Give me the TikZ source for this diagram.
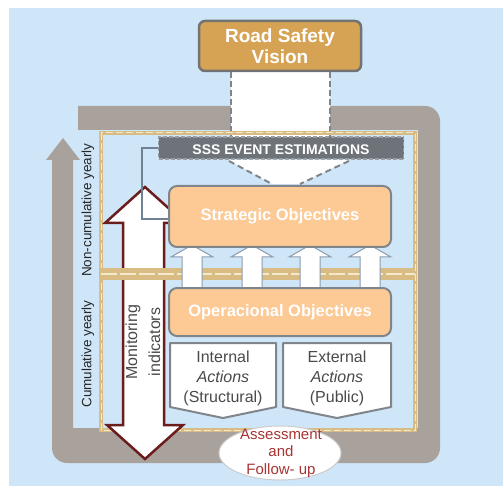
\documentclass[tikz,border=0pt]{standalone}
\usepackage{fontspec}
\setmainfont{Liberation Sans}
\usetikzlibrary{shapes.geometric}
\definecolor{bgblue}{HTML}{CFE6F8}
\definecolor{loopgray}{HTML}{A9A19B}
\definecolor{visionfill}{HTML}{D6A355}
\definecolor{boxedge}{HTML}{80858B}
\definecolor{peach}{HTML}{FDC994}
\definecolor{bandgray}{HTML}{6E737A}
\definecolor{tanc}{HTML}{D8BC84}
\definecolor{tanlight}{HTML}{F3E9CC}
\definecolor{mred}{HTML}{6B1C1C}
\definecolor{assess}{HTML}{A83434}
\definecolor{slate}{HTML}{6F8294}
\definecolor{txtgray}{HTML}{4A4A4A}
\begin{document}
\begin{tikzpicture}[x=1pt,y=-1pt,
  objbox/.style={draw=boxedge, line width=2pt, fill=peach, rounded corners=8pt, inner sep=0pt,
    text=white, font=\fontsize{16.5}{18}\selectfont\bfseries},
  actiontext/.style={align=center, text=txtgray, font=\fontsize{16}{20}\selectfont, inner sep=0pt},
  sidetext/.style={rotate=90, text=black!85, font=\fontsize{13.5}{14}\selectfont, inner sep=0pt},
  uparrow/.style={fill=white, draw=slate!80, line width=1pt}
]
\useasboundingbox (0,0) rectangle (503,486);
\fill[bgblue] (9,8) rectangle (503,486);

% cycle loop band with upward arrow on the left
\fill[loopgray] (78,106) [rounded corners=15pt] -- (440,106) -- (440,463) -- (52,463) -- (52,220)
  [sharp corners] -- (52,160) -- (46,160) -- (63,138) -- (80,160) -- (73,160) -- (73,428)
  -- (418,428) -- (418,130) -- (78,130) -- cycle;

% white shaft under the vision box
\fill[white] (231,72) rectangle (330,137);
\draw[boxedge, line width=2pt, dash pattern=on 6pt off 3pt] (231,72) -- (231,137) (330,72) -- (330,137);

% inner dashed frame
\draw[tanc, line width=4pt] (101,133) rectangle (415,430);
\draw[tanlight, line width=1pt, dash pattern=on 7pt off 3pt] (101,133) rectangle (415,430);

% vision box
\node[draw=black!55, line width=2.5pt, fill=visionfill, rounded corners=6pt,
  minimum width=162pt, minimum height=50pt, inner sep=0pt, align=center, text=white,
  font=\fontsize{19}{21}\selectfont\bfseries] (vision) at (280,46) {Road Safety\\Vision};

% segment band
\node[fill=bandgray, draw=bandgray!70!white, line width=1.5pt, dash pattern=on 4pt off 2pt,
  minimum width=245pt, minimum height=22pt, inner sep=0pt] (seg) at (281,148) {};
\node[text=white, inner sep=0pt, font=\fontsize{14}{14}\selectfont\bfseries] (segtext) at (281,150)
  {SSS EVENT ESTIMATIONS};

% funnel from band to strategic objectives
\fill[white] (229,160) -- (349,160) -- (300,184) -- (272,184) -- cycle;
\draw[boxedge, line width=2pt, dash pattern=on 6pt off 4pt] (229,161) -- (272,184) (349,161) -- (300,184);

% monitoring indicators double arrow
\filldraw[fill=white, draw=mred, line width=2.5pt, line join=miter]
  (145,187) -- (185,223) -- (164,223) -- (164,425) -- (183,425) -- (145,459) -- (107,425)
  -- (123,425) -- (123,223) -- (105,223) -- cycle;

% connector from band to strategic objectives
\coordinate (cbend) at (142,148);
\draw[slate, line width=1.5pt] (seg.west) -- (cbend) -- (142,219) -- (168,219);

% horizontal divider
\fill[tanc] (101,268) rectangle (415,280);
\draw[tanlight, line width=1.2pt, dash pattern=on 16pt off 3pt] (101,274) -- (415,274);

% up arrows
\foreach \c in {192,252,310,370} {
  \filldraw[uparrow] (\c-10,293) -- (\c-10,257) -- (\c-21,257) -- (\c,245) -- (\c+21,257)
    -- (\c+10,257) -- (\c+10,293) -- cycle;
}

% objective boxes
\node[objbox, minimum width=222pt, minimum height=61pt] (strat) at (280,216.5) {Strategic Objectives};
\node[objbox, minimum width=222pt, minimum height=48pt] (ops) at (280,312) {Operacional Objectives};

% action boxes
\filldraw[fill=white, draw=boxedge, line width=2pt, line join=round]
  (170,343) -- (276,343) -- (276,407) -- (223,418) -- (170,407) -- cycle;
\filldraw[fill=white, draw=boxedge, line width=2pt, line join=round]
  (283,343) -- (391,343) -- (391,407) -- (337,418) -- (283,407) -- cycle;
\node[actiontext] (internal) at (223,378) {Internal\\\textit{Actions}\\(Structural)};
\node[actiontext] (external) at (337,378) {External\\\textit{Actions}\\(Public)};

% assessment ellipse
\node[ellipse, fill=white, draw=black!20, line width=1pt, minimum width=122pt, minimum height=54pt,
  inner sep=0pt] (assessment) at (280,453) {};
\node[align=center, text=assess, inner sep=0pt, font=\fontsize{15}{17.5}\selectfont] (assesstext)
  at (281,453) {Assessment\\and\\Follow- up};

% monitoring text
\node[rotate=90, align=center, text=txtgray, inner sep=0pt, font=\fontsize{16}{23}\selectfont]
  (monitext) at (143,342) {Monitoring\\indicators};

% side texts
\node[sidetext] (noncum) at (88,210) {Non-cumulative yearly};
\node[sidetext] (cum) at (88,354) {Cumulative yearly};
\end{tikzpicture}
\end{document}
